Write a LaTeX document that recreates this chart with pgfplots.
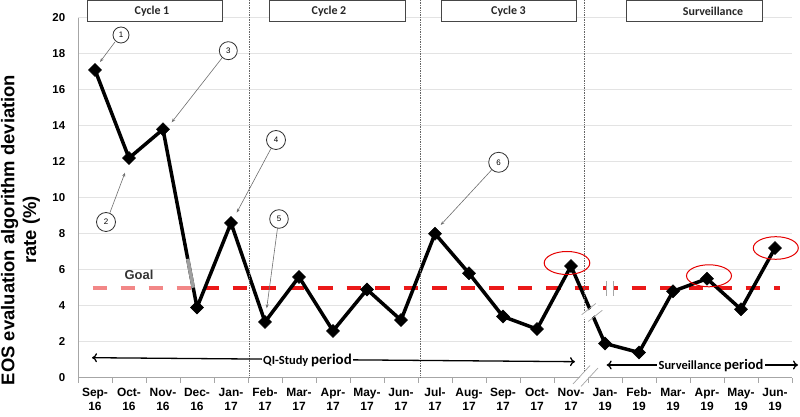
\documentclass[border=0pt]{standalone}
\usepackage{fontspec}
\setmainfont{Liberation Sans}
\newfontfamily\calibri{Carlito}
\usepackage{pgfplots}
\pgfplotsset{compat=1.18}
\usetikzlibrary{arrows.meta}
\definecolor{goalred}{RGB}{235,25,25}
\definecolor{goalpink}{RGB}{242,135,135}
\definecolor{boxgray}{RGB}{70,70,70}
\definecolor{annog}{RGB}{110,110,110}
\newcommand{\tl}[2]{\parbox[t][28bp][t]{40bp}{\centering\strut #1-\\#2\strut}}
\begin{document}
\begin{tikzpicture}
\begin{axis}[
  at={(78bp,39.3bp)}, anchor=south west,
  scale only axis, width=714bp, height=360bp,
  xmin=-0.5, xmax=20.5, ymin=0, ymax=20,
  axis lines*=left, axis line style={-, draw=gray!70, line width=0.8bp},
  xtick={0,...,20},
  xticklabels={{\tl{Sep}{16}},{\tl{Oct}{16}},{\tl{Nov}{16}},{\tl{Dec}{16}},{\tl{Jan}{17}},{\tl{Feb}{17}},{\tl{Mar}{17}},{\tl{Apr}{17}},{\tl{May}{17}},{\tl{Jun}{17}},{\tl{Jul}{17}},{\tl{Aug}{17}},{\tl{Sep}{17}},{\tl{Oct}{17}},{\tl{Nov}{17}},{\tl{Jan}{19}},{\tl{Feb}{19}},{\tl{Mar}{19}},{\tl{Apr}{19}},{\tl{May}{19}},{\tl{Jun}{19}}},
  xticklabel style={anchor=north, font=\fontsize{12}{14}\selectfont\bfseries, yshift=-4.5bp, inner sep=0pt},
  major x tick style={draw=none},
  minor xtick={-0.5,0.5,...,20.5},
  minor x tick style={draw=gray!70, line width=0.6bp},
  minor tick length=5bp,
  tick align=outside,
  ytick={0,2,...,20},
  major y tick style={draw=none},
  yticklabel style={font=\fontsize{11.5}{13}\selectfont\bfseries, xshift=-5bp},
  /pgf/number format/assume math mode=true,
  ymajorgrids, grid style={gray!22, line width=0.6bp},
  clip=false,
]
\addplot[goalpink, line width=4bp, dash pattern=on 14.5bp off 13.5bp, forget plot] coordinates {(-0.07,5) (3,5)};
\addplot[goalred, line width=4bp, dash pattern=on 14.5bp off 14bp, dash phase=21.5bp, forget plot] coordinates {(3,5) (20.15,5)};
\addplot[black, line width=3.5bp, mark=square*, mark size=4.6bp, mark options={rotate=45, solid, fill=black, line width=0.5bp}] table {
x y
0 17.1
1 12.2
2 13.8
3 3.9
4 8.6
5 3.1
6 5.6
7 2.6
8 4.9
9 3.2
10 8.0
11 5.8
12 3.4
13 2.7
14 6.2
15 1.9
16 1.4
17 4.8
18 5.5
19 3.8
20 7.2
};
\addplot[gray!75, line width=3.5bp, forget plot] coordinates {(2.727,6.6) (2.889,5)};
\end{axis}
\begin{scope}[x=1bp, y=-1bp, yshift=417bp]
% vertical dotted separators
\foreach \xx in {249,420,584} \draw[gray!80!black, densely dotted, line width=0.7bp] (\xx,0) -- (\xx,378);
% cycle boxes
\draw[boxgray, line width=1bp, fill=white] (87.7,0.5) rectangle (222.7,22);
\draw[boxgray, line width=1bp, fill=white] (269.3,0.5) rectangle (405,22);
\draw[boxgray, line width=1bp, fill=white] (441,0.5) rectangle (576.7,22);
\draw[boxgray, line width=1bp, fill=white] (626.7,0.5) rectangle (762.3,22);
\node[font=\calibri\bfseries\fontsize{12}{14}\selectfont, text=black!85] at (152,11) {Cycle 1};
\node[font=\calibri\bfseries\fontsize{12}{14}\selectfont, text=black!85] at (329,11) {Cycle 2};
\node[font=\calibri\bfseries\fontsize{12}{14}\selectfont, text=black!85] at (508.5,11) {Cycle 3};
\node[font=\calibri\bfseries\fontsize{12}{14}\selectfont, text=black!85] at (713,11) {Surveillance};
% y label
\node[rotate=90, align=center, font=\bfseries\fontsize{18.5}{22}\selectfont] at (20.5,230) {EOS evaluation algorithm deviation\\rate (\%)};
% goal text
\node[font=\bfseries\fontsize{13}{15}\selectfont, text=black!80] at (139,275) {Goal};
% numbered annotations
\foreach \cx/\cy/\r/\n/\ax/\ay/\bx/\by in {121/35/8/1/115/42/100/62, 106/222/9.5/2/110/212.5/125/172.7, 228.3/50.7/9/3/222/58/171.7/122.3, 276/140/9.5/4/271/148.5/236.7/212.7, 279/219/9.3/5/277.5/228.2/266.7/308.3, 498.7/162.3/10/6/492/169.5/440.7/225}{
  \draw[black!80, line width=0.8bp, fill=white] (\cx,\cy) circle[radius=\r];
  \node[font=\fontsize{8}{9}\selectfont] at (\cx,\cy) {\n};
  \draw[annog, line width=0.6bp, -{Stealth[length=4bp,width=3bp]}] (\ax,\ay) -- (\bx,\by);
}
% red ellipses
\draw[red!90!black, line width=1bp] (567,263) ellipse[x radius=22.8, y radius=11.5];
\draw[red!90!black, line width=1bp] (709,275.8) ellipse[x radius=22.5, y radius=11];
\draw[red!90!black, line width=1bp] (775.8,248) ellipse[x radius=22.5, y radius=11.3];
% break on data line
\fill[white] (582.3,315.4) -- (596.3,304.2) -- (601.7,309.6) -- (587.7,320.8) -- cycle;
\draw[gray!70, line width=0.7bp] (581.7,314.7) -- (595.7,303.5);
\draw[gray!70, line width=0.7bp] (588.3,321.5) -- (602.3,310.3);
% break on x axis
\fill[white] (574,384) -- (591,366) -- (597,368) -- (580,386) -- cycle;
\draw[gray!70, line width=0.7bp] (573,384) -- (590,365.5);
\draw[gray!70, line width=0.7bp] (581,386.5) -- (598,368);
% break on goal line
\fill[white] (606.5,283) rectangle (612.5,293);
\draw[gray!70, line width=0.8bp] (606,281) -- (606,296);
\draw[gray!70, line width=0.8bp] (613,281) -- (613,296);
% period arrows
\draw[black, line width=1.3bp, {To[length=5bp,width=9bp]}-{To[length=5bp,width=9bp]}] (92,357.7) -- (575,361.7);
\node[fill=white, inner sep=1.5bp, font=\calibri\bfseries] at (307.5,360.5) {\fontsize{12.5}{14}\selectfont QI-Study \fontsize{15}{17}\selectfont period};
\draw[black, line width=1.3bp, {To[length=5bp,width=9bp]}-{To[length=5bp,width=9bp]}] (606.7,365) -- (798,365);
\node[fill=white, inner sep=1.5bp, font=\calibri\bfseries] at (711,365.5) {\fontsize{12.5}{14}\selectfont Surveillance \fontsize{14.5}{17}\selectfont period};
\end{scope}
\pgfresetboundingbox
\path[use as bounding box] (0bp,0bp) rectangle (800bp,417bp);
\end{tikzpicture}
\end{document}
